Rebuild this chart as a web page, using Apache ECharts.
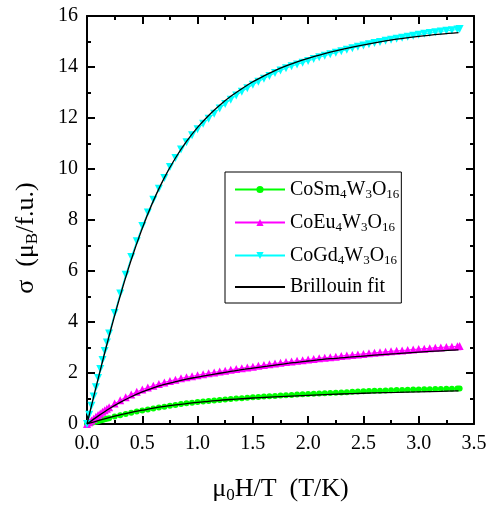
<!DOCTYPE html>
<html>
<head>
<meta charset="utf-8">
<script src="https://cdn.jsdelivr.net/npm/echarts@6/dist/echarts.min.js"></script>
<style>
  html, body { margin: 0; padding: 0; background: #fff; }
  #chart { width: 492px; height: 514px; }
</style>
</head>
<body>
<div id="chart"></div>
<script>
// Reduced field mu0H/T (T/K) of the measured points
const xData = [0, 0.02, 0.04, 0.06, 0.08, 0.10, 0.12, 0.14, 0.16, 0.18, 0.20,
  0.25, 0.30, 0.35, 0.40, 0.45, 0.50, 0.55, 0.60, 0.65, 0.70, 0.75, 0.80, 0.85, 0.90, 0.95,
  1.00, 1.05, 1.10, 1.15, 1.20, 1.25, 1.30, 1.35, 1.40, 1.45, 1.50, 1.55, 1.60, 1.65, 1.70,
  1.75, 1.80, 1.85, 1.90, 1.95, 2.00, 2.05, 2.10, 2.15, 2.20, 2.25, 2.30, 2.35, 2.40, 2.45,
  2.50, 2.55, 2.60, 2.65, 2.70, 2.75, 2.80, 2.85, 2.90, 2.95, 3.00, 3.05, 3.10, 3.15, 3.20,
  3.25, 3.30, 3.35, 3.37];

// Magnetisation sigma (mu_B / f.u.)
const sigmaSm = [0, 0.02, 0.04, 0.07, 0.09, 0.11, 0.14, 0.16, 0.19, 0.21, 0.23,
  0.29, 0.34, 0.39, 0.44, 0.49, 0.53, 0.57, 0.61, 0.65, 0.68, 0.72, 0.75, 0.78, 0.81, 0.83,
  0.86, 0.88, 0.90, 0.92, 0.94, 0.96, 0.98, 1.00, 1.01, 1.03, 1.05, 1.06, 1.08, 1.09, 1.10,
  1.12, 1.13, 1.14, 1.16, 1.17, 1.18, 1.19, 1.20, 1.21, 1.22, 1.23, 1.24, 1.25, 1.26, 1.27,
  1.28, 1.29, 1.30, 1.30, 1.31, 1.32, 1.33, 1.33, 1.34, 1.35, 1.35, 1.36, 1.36, 1.37, 1.37,
  1.38, 1.38, 1.39, 1.39];

const sigmaEu = [0, 0.07, 0.14, 0.21, 0.28, 0.35, 0.41, 0.48, 0.54, 0.60, 0.66,
  0.80, 0.93, 1.05, 1.16, 1.26, 1.35, 1.43, 1.50, 1.57, 1.63, 1.69, 1.74, 1.79, 1.83, 1.87,
  1.91, 1.95, 1.99, 2.02, 2.06, 2.09, 2.13, 2.16, 2.19, 2.22, 2.25, 2.28, 2.31, 2.34, 2.37,
  2.40, 2.43, 2.45, 2.48, 2.50, 2.53, 2.55, 2.58, 2.60, 2.62, 2.64, 2.67, 2.69, 2.71, 2.73,
  2.75, 2.77, 2.79, 2.81, 2.83, 2.85, 2.87, 2.88, 2.90, 2.92, 2.94, 2.95, 2.97, 2.99, 3.00,
  3.02, 3.03, 3.05, 3.06];

const sigmaGd = [0, 0.36, 0.72, 1.08, 1.44, 1.80, 2.16, 2.51, 2.86, 3.20, 3.55,
  4.35, 5.12, 5.85, 6.55, 7.17, 7.76, 8.29, 8.79, 9.23, 9.65, 10.08, 10.43, 10.76, 11.05, 11.32,
  11.56, 11.77, 11.97, 12.17, 12.37, 12.55, 12.72, 12.88, 13.03, 13.17, 13.30, 13.42, 13.54, 13.65, 13.76,
  13.86, 13.95, 14.03, 14.10, 14.17, 14.24, 14.31, 14.38, 14.44, 14.50, 14.56, 14.62, 14.68, 14.74, 14.79,
  14.84, 14.89, 14.94, 14.98, 15.03, 15.07, 15.11, 15.15, 15.19, 15.23, 15.26, 15.30, 15.33, 15.36, 15.39,
  15.42, 15.44, 15.47, 15.49];

// Brillouin fit curves
const xFit = [0, 0.1, 0.2, 0.3, 0.4, 0.5, 0.6, 0.7, 0.8, 0.9, 1.0, 1.1, 1.2, 1.3, 1.4,
  1.5, 1.6, 1.7, 1.8, 1.9, 2.0, 2.2, 2.4, 2.6, 2.8, 3.0, 3.2, 3.36];
const fitSm = [0, 0.13, 0.25, 0.36, 0.46, 0.54, 0.62, 0.69, 0.75, 0.80, 0.85, 0.89, 0.93, 0.96, 0.99,
  1.02, 1.04, 1.06, 1.08, 1.10, 1.12, 1.16, 1.19, 1.22, 1.24, 1.26, 1.28, 1.30];
const fitEu = [0, 0.31, 0.60, 0.85, 1.07, 1.26, 1.42, 1.55, 1.66, 1.76, 1.84, 1.92, 1.99, 2.06, 2.13,
  2.19, 2.25, 2.31, 2.37, 2.42, 2.47, 2.56, 2.63, 2.70, 2.76, 2.82, 2.87, 2.91];
const fitGd = [0, 1.76, 3.45, 5.02, 6.44, 7.68, 8.75, 9.66, 10.43, 11.08, 11.63, 12.10, 12.50, 12.85, 13.15,
  13.42, 13.65, 13.86, 14.04, 14.20, 14.34, 14.58, 14.78, 14.95, 15.09, 15.20, 15.29, 15.35];

const xTicks = { min: 0, max: 3.5, step: 0.5 };
const yTicks = { min: 0, max: 16, step: 2 };

const names = ['CoSm4W3O16', 'CoEu4W3O16', 'CoGd4W3O16', 'Brillouin fit'];
const legendRich = {
  'CoSm4W3O16': '{t|CoSm}{s|4}{t|W}{s|3}{t|O}{s|16}',
  'CoEu4W3O16': '{t|CoEu}{s|4}{t|W}{s|3}{t|O}{s|16}',
  'CoGd4W3O16': '{t|CoGd}{s|4}{t|W}{s|3}{t|O}{s|16}',
  'Brillouin fit': '{t|Brillouin fit}'
};

const pair = (xs, ys) => xs.map((x, i) => [x, ys[i]]);
const FONT = '"Liberation Serif", "Times New Roman", serif';

function richStyle(size, subSize, subPad) {
  return {
    t: { fontFamily: FONT, fontSize: size, color: '#000', lineHeight: size + 4 },
    s: { fontFamily: FONT, fontSize: subSize, color: '#000', padding: [subPad, 0, 0, 0], lineHeight: size + 4 }
  };
}

const AXIS_W = 2;
function makeX(pos, showLabel) {
  return {
    type: 'value', position: pos,
    min: xTicks.min, max: xTicks.max, interval: xTicks.step,
    axisLine: { onZero: false, lineStyle: { color: '#000', width: AXIS_W } },
    axisTick: { inside: true, length: 8, lineStyle: { color: '#000', width: AXIS_W } },
    minorTick: { show: true, splitNumber: 2, length: 4, lineStyle: { color: '#000', width: AXIS_W } },
    splitLine: { show: false },
    axisLabel: {
      show: showLabel, margin: 10, color: '#000', fontSize: 20, fontFamily: FONT,
      formatter: v => v.toFixed(1)
    }
  };
}
function makeY(pos, showLabel) {
  return {
    type: 'value', position: pos,
    min: yTicks.min, max: yTicks.max, interval: yTicks.step,
    axisLine: { onZero: false, lineStyle: { color: '#000', width: AXIS_W } },
    axisTick: { inside: true, length: 8, lineStyle: { color: '#000', width: AXIS_W } },
    minorTick: { show: true, splitNumber: 2, length: 4, lineStyle: { color: '#000', width: AXIS_W } },
    splitLine: { show: false },
    axisLabel: { show: showLabel, margin: 9, color: '#000', fontSize: 20, fontFamily: FONT }
  };
}

const xBottom = makeX('bottom', true);
Object.assign(xBottom, {
  name: '{t|μ}{s|0}{t|H/T  (T/K)}',
  nameLocation: 'middle', nameGap: 50,
  nameTextStyle: { rich: richStyle(26, 17, 13) }
});
const yLeft = makeY('left', true);
Object.assign(yLeft, {
  name: '{t|σ  (μ}{s|B}{t|/f.u.)}',
  nameLocation: 'middle', nameGap: 46,
  nameTextStyle: { padding: [0, 36, 0, 0], rich: richStyle(26, 17, 13) }
});

function dataSeries(name, ys, color, symbol, size, rotate) {
  return {
    name, type: 'line', data: pair(xData, ys),
    symbol, symbolSize: size, symbolRotate: rotate, showSymbol: true,
    itemStyle: { color }, lineStyle: { color, width: 1 },
    animation: false, z: 2
  };
}
function fitSeries(ys) {
  return {
    name: 'Brillouin fit', type: 'line', data: pair(xFit, ys),
    symbol: 'none', smooth: 0.35,
    itemStyle: { color: '#000' }, lineStyle: { color: '#000', width: 1.3 },
    animation: false, z: 3
  };
}

const chart = echarts.init(document.getElementById('chart'), null, { renderer: 'canvas' });
chart.setOption({
  backgroundColor: '#fff',
  animation: false,
  grid: { left: 87, right: 18, top: 16, bottom: 90, containLabel: false },
  xAxis: [xBottom, makeX('top', false)],
  yAxis: [yLeft, makeY('right', false)],
  legend: {
    data: [names[0], names[1], names[2], { name: names[3], itemStyle: { opacity: 0 } }],
    orient: 'vertical', left: 225, top: 172,
    itemWidth: 50, itemHeight: 9, itemGap: 10,
    padding: [6, 2, 6, 9],
    borderColor: '#000', borderWidth: 1,
    formatter: n => legendRich[n],
    textStyle: { rich: richStyle(20, 13, 10) }
  },
  series: [
    dataSeries(names[0], sigmaSm, '#00ff00', 'circle', 6, 0),
    dataSeries(names[1], sigmaEu, '#ff00ff', 'triangle', 8, 0),
    dataSeries(names[2], sigmaGd, '#00ffff', 'triangle', 8, 180),
    fitSeries(fitSm),
    fitSeries(fitEu),
    fitSeries(fitGd)
  ]
});
</script>
</body>
</html>
